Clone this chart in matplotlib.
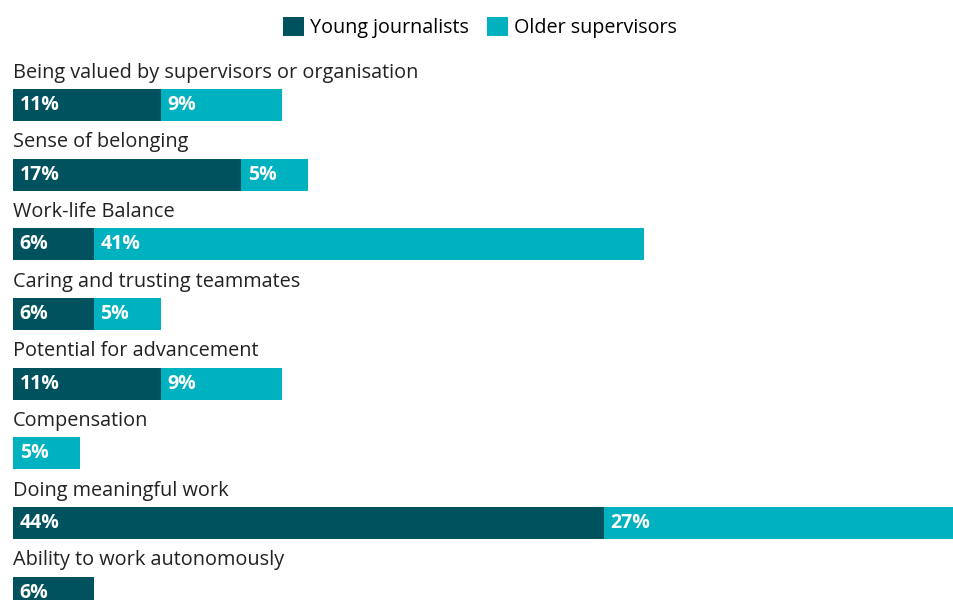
import matplotlib.pyplot as plt
from matplotlib.patches import Patch

# data
categories = [
    "Being valued by supervisors or organisation",
    "Sense of belonging",
    "Work-life Balance",
    "Caring and trusting teammates",
    "Potential for advancement",
    "Compensation",
    "Doing meaningful work",
    "Ability to work autonomously",
]
young = [11, 17, 6, 6, 11, 0, 44, 6]
older = [9, 5, 41, 5, 9, 5, 27, 0]
series_names = ["Young journalists", "Older supervisors"]

dark = "#00525e"
light = "#00b1bf"

plt.rcParams['font.family'] = ['Open Sans', 'DejaVu Sans']

fig = plt.figure(figsize=(9.54, 6), dpi=100)
ax = fig.add_axes([13 / 954, 0, 941 / 954, 1])

px_per_pct = 13.43
step = 69.7
ax.set_xlim(0, 941 / px_per_pct)
ax.set_ylim((600 - 105) / step, -105 / step)
ax.axis('off')

h = 32 / step
y = list(range(len(categories)))
ax.barh(y, young, height=h, color=dark)
ax.barh(y, older, left=young, height=h, color=light)

for i, cat in enumerate(categories):
    ax.text(0, i - 0.465, cat, fontsize=14.3, color="#222222", va='center', ha='left')
    if young[i] > 0:
        ax.text(0.5, i, f"{young[i]}%", fontsize=14, fontweight='bold',
                color='white', va='center', ha='left')
    if older[i] > 0:
        ax.text(young[i] + 0.5, i, f"{older[i]}%", fontsize=14, fontweight='bold',
                color='white', va='center', ha='left')

handles = [Patch(facecolor=dark), Patch(facecolor=light)]
fig.legend(handles, series_names, loc='upper center', bbox_to_anchor=(0.503, 0.995),
           ncol=2, frameon=False, fontsize=14.2, handlelength=1.1, handleheight=1.1,
           handletextpad=0.3, columnspacing=0.9, borderaxespad=0.3)

fig.savefig("out.png", dpi=100)
